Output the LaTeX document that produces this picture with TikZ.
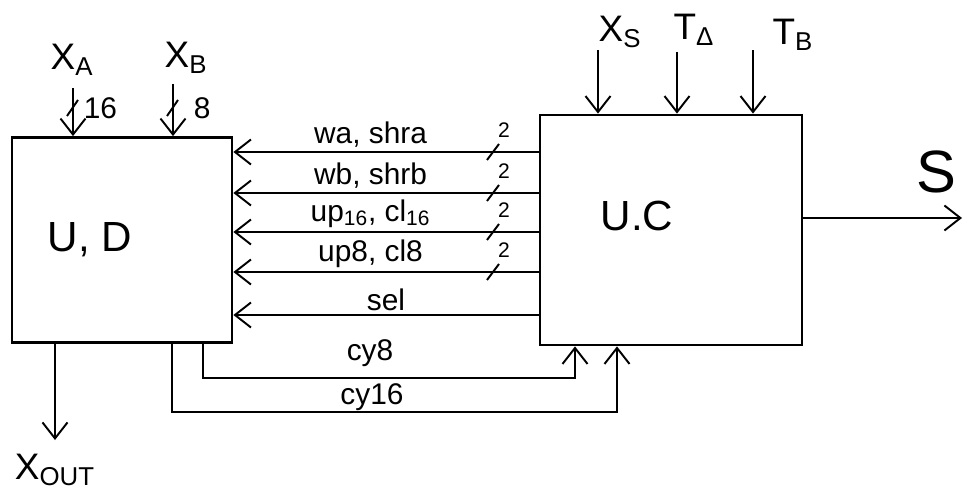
\documentclass[tikz,border=0pt]{standalone}
\usepackage{fontspec}
\setmainfont{Liberation Sans}
\usetikzlibrary{arrows.meta}

\tikzset{
  blk/.style={draw, line width=1.6pt, inner sep=0pt},
  sig/.style={line width=1.1pt, -{Straight Barb[length=3.2mm,width=5mm]}},
  wire/.style={line width=1.1pt},
  lab/.style={font=\fontsize{17}{20}\selectfont, inner sep=2pt},
  toplab/.style={font=\fontsize{21}{24}\selectfont, inner sep=0pt},
  biglab/.style={font=\fontsize{24}{28}\selectfont, inner sep=0pt},
  tiny/.style={font=\fontsize{12}{14}\selectfont, inner sep=0pt},
}

\begin{document}
\begin{tikzpicture}[x=0.02cm,y=-0.02cm]
\useasboundingbox (0,0) rectangle (964,500);

% the two blocks
\node[blk, minimum width=4.4cm, minimum height=4.1cm] (UD) at (122,240) {};
\node[blk, minimum width=5.24cm, minimum height=4.6cm] (UC) at (671,230) {};
\node[biglab] (UDl) at (90,240) {U, D};
\node[biglab] (UCl) at (637,216) {U.C};

% inputs of U.D
\coordinate (xain) at (73,88);
\coordinate (xbin) at (173,84);
\node[toplab] (xa) at (72,60) {X\textsubscript{A}};
\node[toplab] (xb) at (186,58) {X\textsubscript{B}};
\draw[sig] (xain) -- (xain |- UD.north);
\draw[sig] (xbin) -- (xbin |- UD.north);
\draw[wire] (67,116) -- (78,100);
\draw[wire] (167,116) -- (178,100);
\node[lab, anchor=west] (wa16) at (80,108) {16};
\node[lab, anchor=west] (wb8) at (190,108) {8};

% inputs of U.C
\coordinate (xsin) at (598,50);
\coordinate (tain) at (677,52);
\coordinate (tbin) at (753,50);
\node[toplab] (xs) at (620,32) {X\textsubscript{S}};
\node[toplab] (ta) at (694,30) {T\textsubscript{Δ}};
\node[toplab] (tb) at (793,35) {T\textsubscript{B}};
\draw[sig] (xsin) -- (xsin |- UC.north);
\draw[sig] (tain) -- (tain |- UC.north);
\draw[sig] (tbin) -- (tbin |- UC.north);

% output S
\coordinate (sout) at (962,218);
\draw[sig] (UC.east |- sout) -- (sout);
\node[font=\fontsize{34}{38}\selectfont, inner sep=0pt] (sl) at (936,172) {S};

% control buses U.C -> U.D
\foreach \y/\txt in {152/{wa, shra},193/{wb, shrb},232/{up\textsubscript{16}, cl\textsubscript{16}},272/{up8, cl8}}{
  \draw[sig] (UC.west |- 0,\y) -- node[lab, above, xshift=-8\pgflinewidth] {\txt} (UD.east |- 0,\y);
  \draw[wire] (487,\y+8) -- (499,\y-8);
  \node[tiny] at (504,\y-22) {2};
}
\draw[sig] (UC.west |- 0,315) -- node[lab, above] {sel} (UD.east |- 0,315);

% carries U.D -> U.C
\draw[sig] (UD.south -| 203,0) -- (203,378) -- (575,378) -- (UC.south -| 575,0);
\draw[sig] (UD.south -| 172,0) -- (172,412) -- (617,412) -- (UC.south -| 617,0);
\node[lab] (cy8) at (370,353) {cy8};
\node[lab] (cy16) at (372,397) {cy16};

% output X_OUT
\coordinate (xout) at (55,440);
\draw[sig] (UD.south -| xout) -- (xout);
\node[toplab] (xo) at (55,470) {X\textsubscript{OUT}};
\end{tikzpicture}
\end{document}
